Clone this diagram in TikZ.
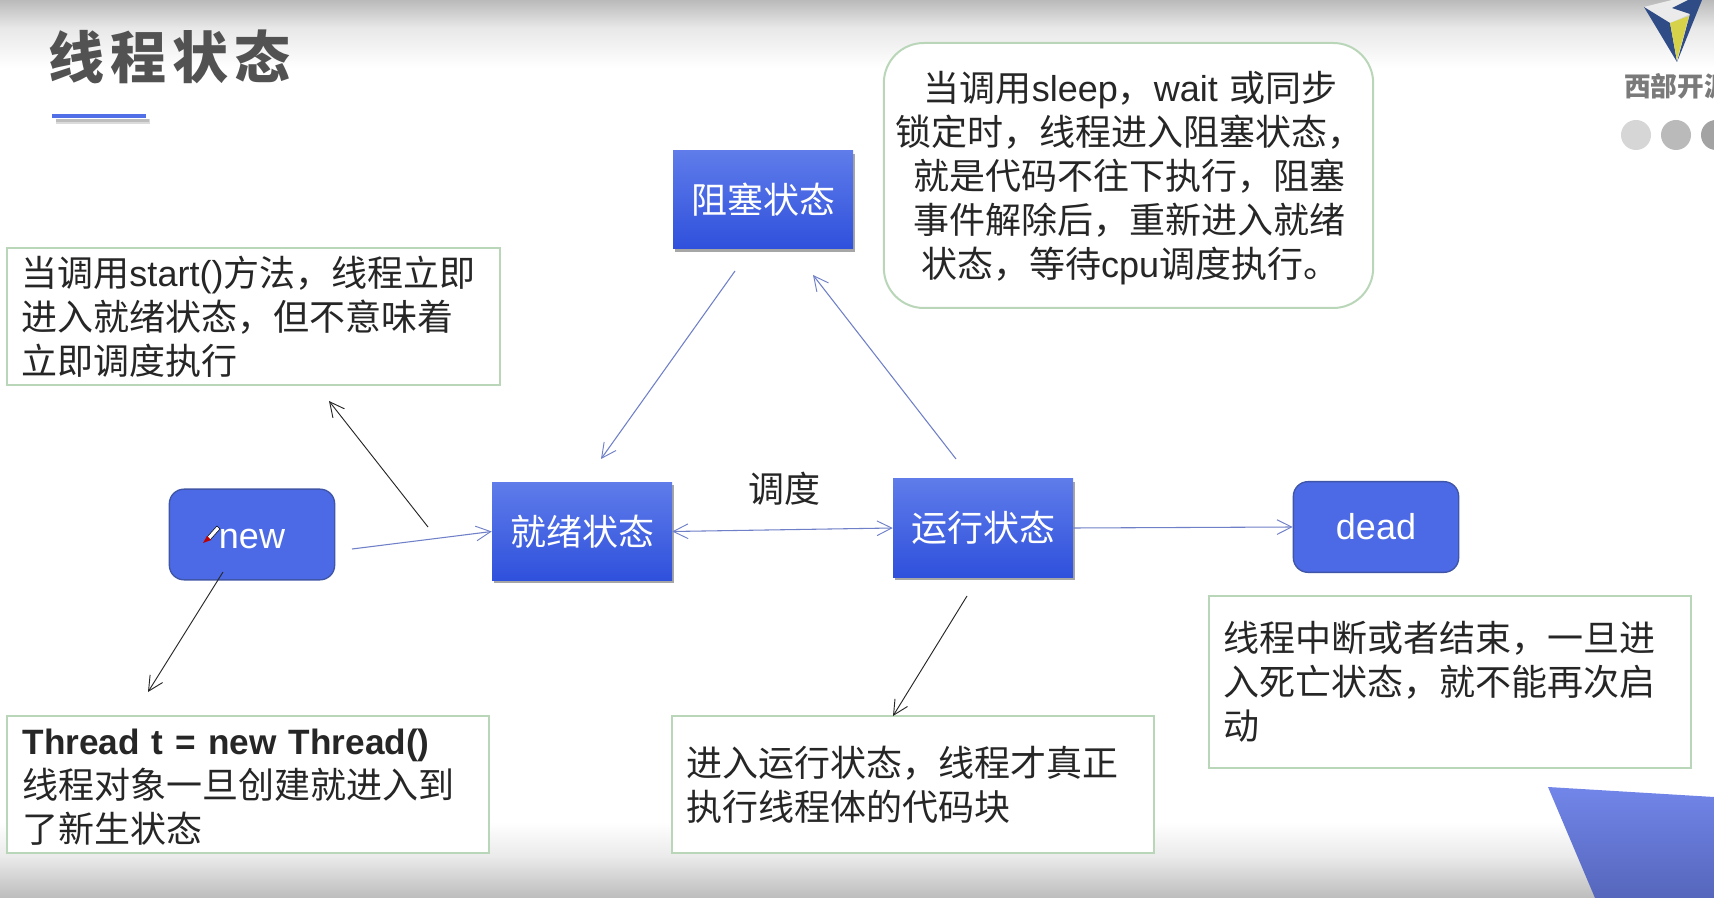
\documentclass[tikz,border=0pt]{standalone}
\usepackage{fontspec}
\setmainfont{Liberation Sans}
\newfontfamily\cjk{Noto Sans CJK SC}
\newfontfamily\cjkspaced[LetterSpace=11]{Noto Sans CJK SC}
\newcommand\zh[1]{{\cjk #1}}
\usetikzlibrary{arrows.meta,shadows}
\definecolor{boxtop}{HTML}{5F7CEA}
\definecolor{boxbot}{HTML}{2F50DC}
\definecolor{endfill}{HTML}{4C6AE6}
\definecolor{endline}{HTML}{3F55A8}
\definecolor{flowblue}{HTML}{6F80C8}
\definecolor{paleline}{HTML}{B9D6B8}
\definecolor{wedgetop}{HTML}{7286EA}
\definecolor{wedgebot}{HTML}{5566BB}
\definecolor{logoblue}{HTML}{2F4C86}
\definecolor{logoyellow}{HTML}{D6D24A}
\tikzset{
  x=0.75pt,y=-0.75pt,
  statebox/.style={rectangle,top color=boxtop,bottom color=boxbot,text=white,
    font=\fontsize{27}{32}\selectfont,inner sep=0pt,
    drop shadow={shadow xshift=1.5pt,shadow yshift=-2pt,fill=black,opacity=.35}},
  endbox/.style={rectangle,rounded corners=11pt,fill=endfill,draw=endline,
    line width=1pt,text=white,font=\fontsize{27}{32}\selectfont,inner sep=0pt,
    minimum width=124pt,minimum height=68pt},
  notebox/.style={rectangle,draw=paleline,line width=1.5pt,fill=white,align=left,
    font=\fontsize{27}{33}\selectfont,inner xsep=8pt,inner ysep=0pt,text=black!85},
  flow/.style={draw=flowblue,line width=.8pt,-{Straight Barb[length=11pt,width=11pt,line width=.7pt]}},
  flowboth/.style={draw=flowblue,line width=.8pt,
    {Straight Barb[length=11pt,width=11pt,line width=.7pt]}-{Straight Barb[length=11pt,width=11pt,line width=.7pt]}},
  noteline/.style={draw=black!85,line width=.7pt,-{Straight Barb[length=11pt,width=11pt,line width=.7pt]}},
}
\begin{document}
\begin{tikzpicture}
\useasboundingbox (0,0) rectangle (1714,898);
\begin{scope}
\clip (0,0) rectangle (1714,898);
% page shading
\fill[white] (0,0) rectangle (1714,898);
\shade[top color=black!27,bottom color=black!9] (0,0) rectangle (1714,28);
\shade[top color=black!9,bottom color=white] (0,28) rectangle (1714,68);
\shade[top color=white,bottom color=black!8] (0,822) rectangle (1714,856);
\shade[top color=black!8,bottom color=black!26] (0,856) rectangle (1714,898);
% corner wedge
\shade[top color=wedgetop,bottom color=wedgebot] (1548,787) -- (1714,797) -- (1714,898) -- (1595,898) -- cycle;
% logo
\fill[black!8] (1644,7) -- (1672,0) -- (1692,0) -- (1672,8) -- (1690,14) -- (1670,23) -- cycle;
\fill[logoblue] (1644,7) -- (1670,23) -- (1677,62) -- cycle;
\fill[logoblue] (1672,8) -- (1688,0) -- (1702,0) -- (1677,62) -- (1690,14) -- cycle;
\fill[logoyellow] (1670,23) -- (1689,16) -- (1677,60) -- cycle;
\node[anchor=west,inner sep=0pt,text=black!52,font=\fontsize{20}{24}\selectfont\bfseries] (logotext) at (1624,86) {\cjk 西部开源};
\fill[black!16] (1636,135) circle[radius=15];
\fill[black!27] (1676,135) circle[radius=15];
\fill[black!36] (1716,135) circle[radius=15];
\end{scope}
% title
\node[anchor=west,inner sep=0pt,text=black!68,font=\fontsize{42}{50}\selectfont\bfseries] (title) at (48,57) {\cjkspaced 线程状态};
\fill[black!14] (56,119) rectangle (150,124);
\fill[black!26] (56,119) rectangle (149,122);
\fill[boxtop!70!boxbot] (52,114.5) rectangle (146,118);
% state boxes
\node[statebox,minimum width=135pt,minimum height=73.5pt] (blocked) at (763,200) {\zh{阻塞状态}};
\node[statebox,minimum width=135pt,minimum height=73.5pt] (ready) at (582,531.5) {\zh{就绪状态}};
\node[statebox,minimum width=135pt,minimum height=73.5pt] (running) at (983,528) {\zh{运行状态}};
\node[endbox] (new) at (252,534.5) {\rule{0pt}{21pt}new};
\node[endbox] (dead) at (1376,527) {dead};
% pencil cursor on the new box
\fill[white,draw=black,line width=.4pt] (207,537) -- (217,526) -- (220,529) -- (210,540) -- cycle;
\fill[red!75!black] (203,543) -- (207,536) -- (211,540) -- cycle;
% notes
\node[notebox,minimum width=370pt,minimum height=102.75pt,text width=348pt] (startnote) at (253.5,316.5)
  {\zh{当调用}start()\zh{方法，线程立即}\\\zh{进入就绪状态，但不意味着}\\\zh{立即调度执行}};
\node[notebox,minimum width=361.5pt,minimum height=102.75pt,text width=338pt] (newnote) at (248,784.5)
  {\rule{0pt}{23pt}{\fontsize{26.4}{33}\selectfont\textbf{Thread t = new Thread()}}\\\zh{线程对象一旦创建就进入到}\\\zh{了新生状态}};
\node[notebox,minimum width=361.5pt,minimum height=102.75pt,text width=340pt] (runnote) at (913,784.5)
  {\zh{进入运行状态，线程才真正}\\\zh{执行线程体的代码块}};
\node[notebox,minimum width=361.5pt,minimum height=129pt,text width=339.5pt] (deadnote) at (1450,682)
  {\zh{线程中断或者结束，一旦进}\\\zh{入死亡状态，就不能再次启}\\\zh{动}};
\node[notebox,rounded corners=30pt,minimum width=367pt,minimum height=198.75pt,text width=349pt] (blocknote) at (1128.5,175.5)
  {\rule{0pt}{27pt}\hspace*{21pt}\zh{当调用}sleep\zh{，}wait \zh{或同步}\\
   \zh{锁定时，线程进入阻塞状态，}\\
   \hspace*{13.5pt}\zh{就是代码不往下执行，阻塞}\\
   \hspace*{13.5pt}\zh{事件解除后，重新进入就绪}\\
   \hspace*{19pt}\zh{状态，等待}cpu\zh{调度执行。}};
\node[inner sep=0pt,text=black!85,font=\fontsize{27}{32}\selectfont] (schedule) at (784,489) {\zh{调度}};
% free ends
\coordinate (newout) at (352,549);
\coordinate (blockout) at (735,271);
\coordinate (readyin) at (601,459);
\coordinate (runout) at (956,459);
\coordinate (blockin) at (813,275);
\coordinate (startfrom) at (428,527);
\coordinate (startto) at (329,401);
\coordinate (newfrom) at (223,572);
\coordinate (newto) at (148,692);
\coordinate (runfrom) at (967,596);
\coordinate (runto) at (893,716);
% connectors
\draw[flow] (newout) -- (ready.west);
\draw[flowboth] (ready.east) -- (running.west);
\draw[flow] (running.east) -- (dead.west);
\draw[flow] (blockout) -- (readyin);
\draw[flow] (runout) -- (blockin);
\draw[noteline] (startfrom) -- (startto);
\draw[noteline] (newfrom) -- (newto);
\draw[noteline] (runfrom) -- (runto);
\end{tikzpicture}
\end{document}
